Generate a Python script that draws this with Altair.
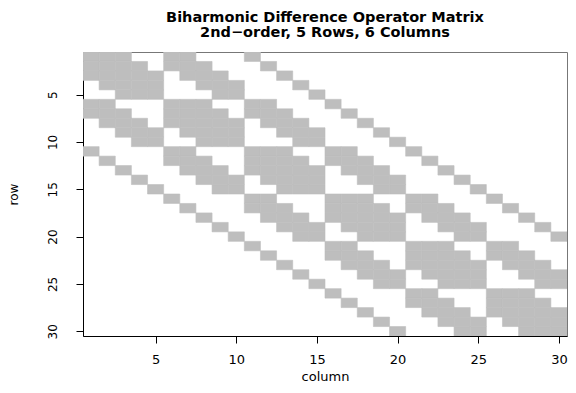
import altair as alt
import pandas as pd

# Nonzero column indices of each matrix row (rows 1..30)
nonzero_cols = [
    [1, 2, 3, 6, 7, 11],
    [1, 2, 3, 4, 6, 7, 8, 12],
    [1, 2, 3, 4, 5, 7, 8, 9, 13],
    [2, 3, 4, 5, 8, 9, 10, 14],
    [3, 4, 5, 9, 10, 15],
    [1, 2, 6, 7, 8, 11, 12, 16],
    [1, 2, 3, 6, 7, 8, 9, 11, 12, 13, 17],
    [2, 3, 4, 6, 7, 8, 9, 10, 12, 13, 14, 18],
    [3, 4, 5, 7, 8, 9, 10, 13, 14, 15, 19],
    [4, 5, 8, 9, 10, 14, 15, 20],
    [1, 6, 7, 11, 12, 13, 16, 17, 21],
    [2, 6, 7, 8, 11, 12, 13, 14, 16, 17, 18, 22],
    [3, 7, 8, 9, 11, 12, 13, 14, 15, 17, 18, 19, 23],
    [4, 8, 9, 10, 12, 13, 14, 15, 18, 19, 20, 24],
    [5, 9, 10, 13, 14, 15, 19, 20, 25],
    [6, 11, 12, 16, 17, 18, 21, 22, 26],
    [7, 11, 12, 13, 16, 17, 18, 19, 21, 22, 23, 27],
    [8, 12, 13, 14, 16, 17, 18, 19, 20, 22, 23, 24, 28],
    [9, 13, 14, 15, 17, 18, 19, 20, 23, 24, 25, 29],
    [10, 14, 15, 18, 19, 20, 24, 25, 30],
    [11, 16, 17, 21, 22, 23, 26, 27],
    [12, 16, 17, 18, 21, 22, 23, 24, 26, 27, 28],
    [13, 17, 18, 19, 21, 22, 23, 24, 25, 27, 28, 29],
    [14, 18, 19, 20, 22, 23, 24, 25, 28, 29, 30],
    [15, 19, 20, 23, 24, 25, 29, 30],
    [16, 21, 22, 26, 27, 28],
    [17, 21, 22, 23, 26, 27, 28, 29],
    [18, 22, 23, 24, 26, 27, 28, 29, 30],
    [19, 23, 24, 25, 27, 28, 29, 30],
    [20, 24, 25, 28, 29, 30],
]
tick_values = [5, 10, 15, 20, 25, 30]
title_lines = ["Biharmonic Difference Operator Matrix", "2nd\u2212order, 5 Rows, 6 Columns"]

records = []
for r, cols in enumerate(nonzero_cols, start=1):
    for c in cols:
        records.append({"row": r, "column": c})
df = pd.DataFrame(records)

FONT = "DejaVu Sans"

xscale = alt.Scale(domain=[0.5, 30.5], nice=False, zero=False)
yscale = alt.Scale(domain=[0.5, 30.5], nice=False, zero=False, reverse=True)

chart = (
    alt.Chart(df)
    .transform_calculate(
        x0="datum.column - 0.5", x1="datum.column + 0.5",
        y0="datum.row - 0.5", y1="datum.row + 0.5",
    )
    .mark_rect(color="#BEBEBE", stroke="#BEBEBE", strokeWidth=0.6, clip=True)
    .encode(
        x=alt.X("x0:Q", scale=xscale, title="column",
                axis=alt.Axis(values=tick_values, grid=False, tickSize=7,
                              labelFontSize=13, titleFontSize=13,
                              labelPadding=10, titlePadding=4, format="d")),
        x2="x1:Q",
        y=alt.Y("y0:Q", scale=yscale, title="row",
                axis=alt.Axis(values=tick_values, grid=False, tickSize=7,
                              labelFontSize=12, titleFontSize=12,
                              labelAngle=270, labelAlign="center",
                              labelBaseline="bottom", labelPadding=17,
                              titlePadding=26, format="d")),
        y2="y1:Q",
    )
    .properties(
        width=484,
        height=284,
        title=alt.TitleParams(title_lines, anchor="middle", fontSize=14.5,
                              font=FONT, fontWeight="bold", color="black",
                              baseline="bottom", offset=5, dy=7, lineHeight=15),
        autosize=alt.AutoSizeParams(type="none"),
        padding={"left": 75, "top": 44, "right": 1, "bottom": 49},
    )
    .configure_view(stroke="#777777", strokeWidth=1)
    .configure_axis(
        labelFont=FONT, titleFont=FONT,
        titleFontWeight="normal", labelColor="black", titleColor="black",
        domainColor="black", tickColor="black", domainWidth=1, tickWidth=1,
        labelFlush=False,
    )
)

chart.save("out.html", embed_options={"renderer": "svg", "actions": False})
